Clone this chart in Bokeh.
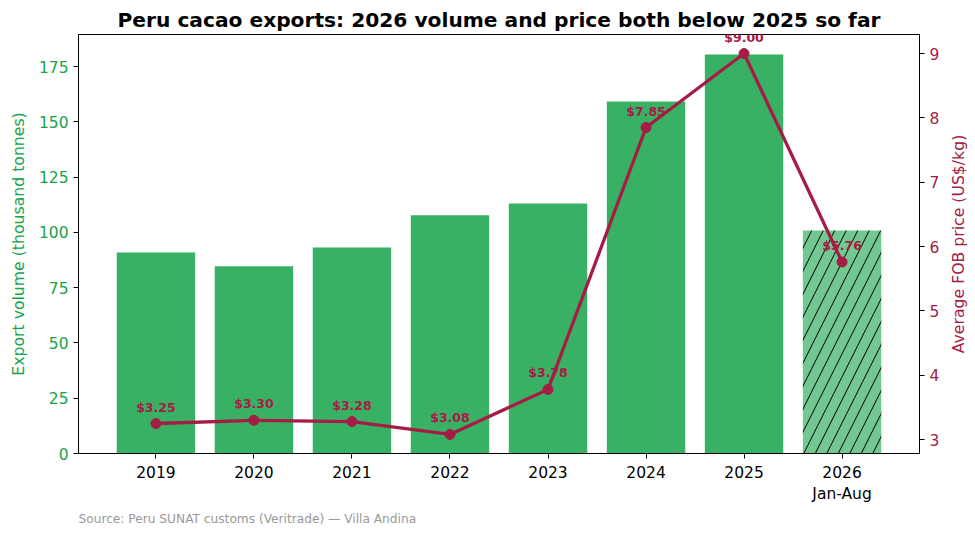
import math
from bokeh.plotting import figure
from bokeh.layouts import row
from bokeh.models import Range1d, LinearAxis, FixedTicker, Title, ColumnDataSource, Label
from bokeh.core.properties import value
from bokeh.embed import file_html
from bokeh.resources import INLINE

# ---- data ----
year_labels = ["2019", "2020", "2021", "2022", "2023", "2024", "2025", "2026\nJan-Aug"]
volumes = [90.9, 84.7, 93.2, 107.7, 113.1, 159.2, 180.5, 100.9]  # thousand tonnes
prices = [3.25, 3.30, 3.28, 3.08, 3.78, 7.85, 9.00, 5.76]        # US$/kg
price_labels = ["$3.25", "$3.30", "$3.28", "$3.08", "$3.78", "$7.85", "$9.00", "$5.76"]

GREEN = "#16a34a"
RED = "#a51c45"
FONT = "DejaVu Sans"

xs = list(range(len(year_labels)))
n_full = len(xs) - 1
x_lo, x_hi = -0.79, len(xs) - 1 + 0.79
p_lo, p_hi = 2.784, 9.296

p = figure(
    frame_width=841, frame_height=419,
    min_border_left=78, min_border_right=20, min_border_top=34, min_border_bottom=20,
    x_range=Range1d(x_lo, x_hi),
    y_range=Range1d(0, 189.5),
    output_backend="svg", toolbar_location=None,
    title="Peru cacao exports: 2026 volume and price both below 2025 so far",
)
p.extra_y_ranges = {"price": Range1d(p_lo, p_hi)}

# bars
bar_src = ColumnDataSource(dict(x=xs[:n_full], top=volumes[:n_full]))
p.vbar(x="x", top="top", width=0.8, source=bar_src, fill_color=GREEN, fill_alpha=0.85, line_color=None)
part_src = ColumnDataSource(dict(x=xs[n_full:], top=volumes[n_full:]))
p.vbar(x="x", top="top", width=0.8, source=part_src, fill_color=GREEN, fill_alpha=0.6, line_color=None,
       hatch_pattern="/", hatch_color="black", hatch_weight=1, hatch_scale=23, hatch_alpha=1.0)

# price line
line_src = ColumnDataSource(dict(x=xs, y=prices, lab=price_labels))
p.line(x="x", y="y", source=line_src, line_color=RED, line_width=3.3, y_range_name="price")
p.scatter(x="x", y="y", source=line_src, size=10, fill_color=RED, line_color=RED, y_range_name="price")
p.text(x="x", y="y", text="lab", source=line_src, y_range_name="price",
       text_align="center", text_baseline="bottom", y_offset=-9,
       text_color=RED, text_font_size="12.5px", text_font_style="bold", text_font=value(FONT))

# axes
p.xgrid.visible = False
p.ygrid.visible = False
p.outline_line_color = "black"
p.outline_line_width = 1

xa = p.xaxis[0]
xa.ticker = FixedTicker(ticks=xs)
xa.major_label_overrides = {i: lab for i, lab in enumerate(year_labels)}
xa.major_label_text_font_size = "15.5px"
xa.major_label_text_font = FONT
xa.major_label_text_color = "black"
xa.minor_tick_line_color = None
xa.major_tick_out = 5
xa.major_tick_in = 0
xa.major_label_standoff = 5

ya = p.yaxis[0]
ya.ticker = FixedTicker(ticks=[0, 25, 50, 75, 100, 125, 150, 175])
ya.axis_label = "Export volume (thousand tonnes)"
ya.axis_label_text_color = GREEN
ya.axis_label_text_font_size = "15.7px"
ya.axis_label_text_font_style = "normal"
ya.axis_label_text_font = FONT
ya.axis_label_standoff = 8
ya.major_label_text_color = GREEN
ya.major_label_text_font_size = "15.5px"
ya.major_label_text_font = FONT
ya.minor_tick_line_color = None
ya.major_tick_out = 5
ya.major_tick_in = 0
ya.major_label_standoff = 5

ra = LinearAxis(y_range_name="price", ticker=FixedTicker(ticks=[3, 4, 5, 6, 7, 8, 9]))
ra.major_label_text_color = RED
ra.major_label_text_font_size = "15.5px"
ra.major_label_text_font = FONT
ra.minor_tick_line_color = None
ra.major_tick_out = 5
ra.major_tick_in = 0
ra.major_label_standoff = 5
p.add_layout(ra, "right")

# title
p.title.align = "center"
p.title.text_font_size = "20.2px"
p.title.text_font_style = "bold"
p.title.text_font = FONT
p.title.text_color = "black"
p.title.standoff = 5

# source note
src = Title(text="Source: Peru SUNAT customs (Veritrade) \u2014 Villa Andina", align="left",
            text_font_size="12.2px", text_font_style="normal", text_color="#999999", text_font=FONT,
            standoff=6)
p.add_layout(src, "below")

# narrow side panel carrying the right axis title (reads bottom-to-top)
q = figure(
    frame_width=32, frame_height=419,
    min_border_left=0, min_border_right=0, min_border_top=34, min_border_bottom=20,
    x_range=Range1d(0, 1), y_range=Range1d(0, 1),
    x_axis_location=None, y_axis_location=None,
    output_backend="svg", toolbar_location=None,
)
q.xgrid.visible = False
q.ygrid.visible = False
q.outline_line_color = None
q.add_layout(Label(x=0.5, y=0.5, text="Average FOB price (US$/kg)", angle=math.pi / 2,
                   text_align="center", text_baseline="middle",
                   text_color=RED, text_font_size="15.7px", text_font=FONT))

layout = row(p, q)
open("out.html", "w").write(file_html(layout, INLINE))
